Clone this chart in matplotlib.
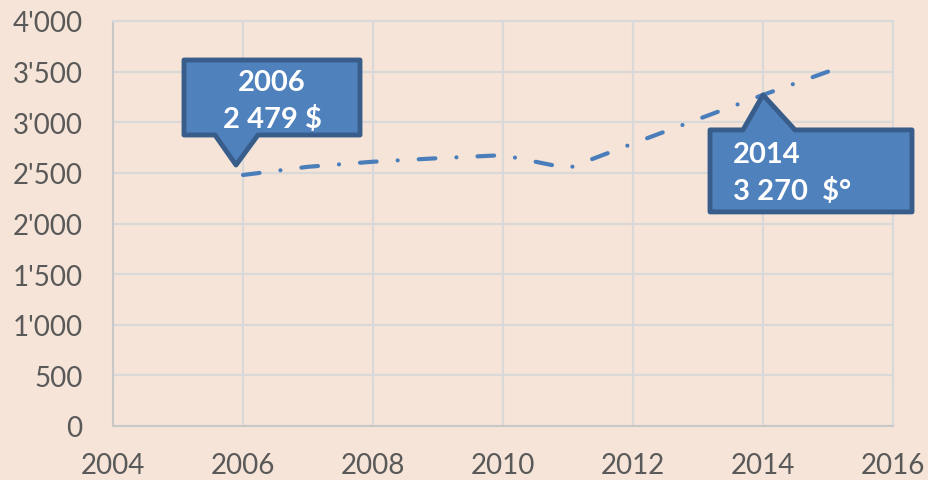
import matplotlib
matplotlib.use("Agg")
import matplotlib.pyplot as plt
import numpy as np
from matplotlib.patches import Polygon
from matplotlib.transforms import IdentityTransform
from matplotlib.ticker import FuncFormatter

years = [2006, 2007, 2008, 2009, 2010, 2011, 2012, 2013, 2014, 2015]
values = [2479, 2560, 2610, 2645, 2675, 2545, 2790, 3030, 3270, 3500]
callout_years = [2006, 2014]
callout_texts = ["2006\n2 479 $", "2014\n3 270  $°"]

bg = "#F5E4D7"
line_c = "#4A7EBB"
fill_c = "#4F81BD"
edge_c = "#385D8A"
tick_c = "#595959"
grid_c = "#D9D9D9"

plt.rcParams['font.family'] = ['Lato', 'DejaVu Sans']

fig = plt.figure(figsize=(9.29, 4.81), dpi=100, facecolor=bg)
ax = fig.add_axes([113/929, 1-427/481, 780/929, 405/481], facecolor=bg)

ax.set_xlim(2004, 2016)
ax.set_ylim(0, 4000)

# stretch the dash-dot pattern a little so that both ends finish on a dash
lw = 3
pts = ax.transData.transform(np.column_stack([years, values]))
length = np.sum(np.hypot(*np.diff(pts, axis=0).T)) / lw
dash, gap = 4, 5.3
period = dash + 2 * gap
n = round((length - dash) / period)
gap = ((length - dash) / n - dash) / 2

ax.plot(years, values, color=line_c, lw=lw, dashes=(dash, gap, 0.01, gap),
        dash_capstyle='round', solid_capstyle='round')

ax.set_xticks(range(2004, 2017, 2))
ax.set_yticks(range(0, 4001, 500))
ax.yaxis.set_major_formatter(FuncFormatter(lambda v, p: f"{int(v):,}".replace(",", "'")))
ax.grid(True, color=grid_c, lw=1.5)
ax.set_axisbelow(True)
for s in ax.spines.values():
    s.set_color(grid_c)
    s.set_linewidth(1.5)
ax.spines['left'].set_color("#C8C8C8")
ax.spines['bottom'].set_color("#C8C8C8")
ax.tick_params(length=0, labelsize=20, labelcolor=tick_c)
ax.tick_params(axis='y', pad=22)
ax.tick_params(axis='x', pad=19)

fig.canvas.draw()

def callout(tx, ty, L, R, B, T, pb1, pb2, down):
    # box edges relative to pointer tip, pixels, y up
    if down:
        pts = [(L, T), (R, T), (R, B), (pb2, B), (0, 0), (pb1, B), (L, B)]
    else:
        pts = [(L, T), (pb1, T), (0, 0), (pb2, T), (R, T), (R, B), (L, B)]
    pts = [(tx + x, ty + y) for x, y in pts]
    ax.add_patch(Polygon(pts, closed=True, facecolor=fill_c, edgecolor=edge_c,
                         lw=3.5, joinstyle='round', transform=IdentityTransform(),
                         clip_on=False, zorder=5))

# first callout (pointer down to 2006 point)
px, py = ax.transData.transform((callout_years[0], values[0]))
tx, ty = px - 7, py + 10
callout(tx, ty, -52, 124, 30, 105, -21, 22, True)
l1, l2 = callout_texts[0].split("\n")
fig.text((tx + 36) / 929, (ty + 83) / 481, l1, color="white",
         fontsize=21, fontweight='bold', ha='center', va='center', zorder=6)
fig.text((tx + 36) / 929, (ty + 47) / 481, l2, color="white",
         fontsize=21, fontweight='bold', ha='center', va='center', zorder=6)

# second callout (pointer up to 2014 point)
px, py = ax.transData.transform((callout_years[1], values[years.index(2014)]))
tx, ty = px, py
callout(tx, ty, -53, 149, -117, -35, -20, 32, False)
l1, l2 = callout_texts[1].split("\n")
fig.text((tx - 30) / 929, (ty - 59) / 481, l1, color="white",
         fontsize=21, fontweight='bold', ha='left', va='center', zorder=6)
fig.text((tx - 30) / 929, (ty - 96) / 481, l2, color="white",
         fontsize=21, fontweight='bold', ha='left', va='center', zorder=6)

fig.savefig("out.png", dpi=100, facecolor=bg)
